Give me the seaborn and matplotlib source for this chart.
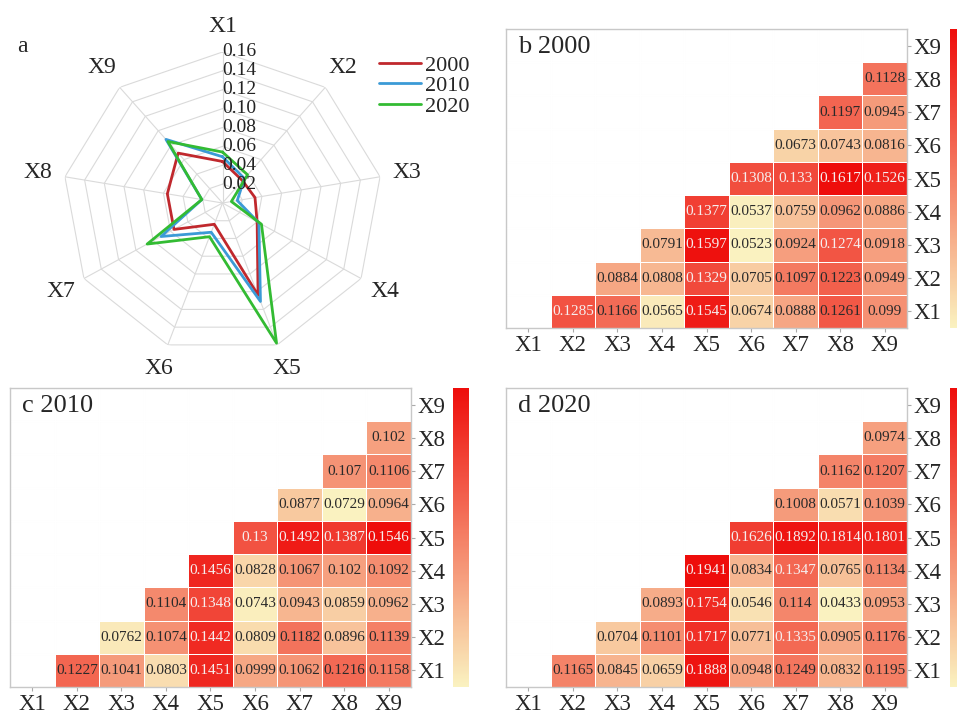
import numpy as np
import pandas as pd
import matplotlib
matplotlib.use("Agg")
import matplotlib.pyplot as plt
import seaborn as sns
from matplotlib.colors import LinearSegmentedColormap

# -----------------------------
# Data
# -----------------------------
factors = ["X1", "X2", "X3", "X4", "X5", "X6", "X7", "X8", "X9"]
years = ["2000", "2010", "2020"]

# single factor q values (panel a)
radar_2000 = [0.044, 0.031, 0.033, 0.040, 0.104, 0.024, 0.056, 0.056, 0.069]
radar_2010 = [0.049, 0.034, 0.015, 0.042, 0.111, 0.033, 0.071, 0.021, 0.088]
radar_2020 = [0.054, 0.039, 0.009, 0.045, 0.158, 0.038, 0.087, 0.021, 0.085]

# interaction q values, row Xi with X(i+1)..X9
q_2000 = [
    [0.1285, 0.1166, 0.0565, 0.1545, 0.0674, 0.0888, 0.1261, 0.099],
    [0.0884, 0.0808, 0.1329, 0.0705, 0.1097, 0.1223, 0.0949],
    [0.0791, 0.1597, 0.0523, 0.0924, 0.1274, 0.0918],
    [0.1377, 0.0537, 0.0759, 0.0962, 0.0886],
    [0.1308, 0.133, 0.1617, 0.1526],
    [0.0673, 0.0743, 0.0816],
    [0.1197, 0.0945],
    [0.1128],
]
q_2010 = [
    [0.1227, 0.1041, 0.0803, 0.1451, 0.0999, 0.1062, 0.1216, 0.1158],
    [0.0762, 0.1074, 0.1442, 0.0809, 0.1182, 0.0896, 0.1139],
    [0.1104, 0.1348, 0.0743, 0.0943, 0.0859, 0.0962],
    [0.1456, 0.0828, 0.1067, 0.102, 0.1092],
    [0.13, 0.1492, 0.1387, 0.1546],
    [0.0877, 0.0729, 0.0964],
    [0.107, 0.1106],
    [0.102],
]
q_2020 = [
    [0.1165, 0.0845, 0.0659, 0.1888, 0.0948, 0.1249, 0.0832, 0.1195],
    [0.0704, 0.1101, 0.1717, 0.0771, 0.1335, 0.0905, 0.1176],
    [0.0893, 0.1754, 0.0546, 0.114, 0.0433, 0.0953],
    [0.1941, 0.0834, 0.1347, 0.0765, 0.1134],
    [0.1626, 0.1892, 0.1814, 0.1801],
    [0.1008, 0.0571, 0.1039],
    [0.1162, 0.1207],
    [0.0974],
]

line_colors = ["#c0282d", "#3b9ad6", "#33bb33"]

# -----------------------------
# Style
# -----------------------------
sns.set_style("white")
plt.rcParams["font.family"] = ["Liberation Serif", "DejaVu Serif"]

W, H = 957, 716
fig = plt.figure(figsize=(W / 100, H / 100), dpi=100)


def rect(x0, y0, x1, y1):
    return [x0 / W, 1 - y1 / H, (x1 - x0) / W, (y1 - y0) / H]


# -----------------------------
# a: radar
# -----------------------------
ax = fig.add_axes(rect(62.5, 52, 382.5, 354), projection="polar")
ax.set_aspect("auto")
ax.set_theta_offset(np.pi / 2)
ax.set_theta_direction(-1)
ax.set_ylim(0, 0.16)
ax.grid(False)
ax.spines["polar"].set_visible(False)
ax.set_xticks([])
ax.set_yticks([])

theta = np.arange(len(factors)) * 2 * np.pi / len(factors)
theta_c = np.append(theta, theta[0])
rings = [0.02, 0.04, 0.06, 0.08, 0.10, 0.12, 0.14, 0.16]
for r in rings:
    ax.plot(theta_c, [r] * len(theta_c), color="#dadada", lw=0.8, zorder=1)
for t in theta:
    ax.plot([t, t], [0, 0.16], color="#dadada", lw=0.8, zorder=1)

for vals, yr, c in zip([radar_2000, radar_2010, radar_2020], years, line_colors):
    ax.plot(theta_c, vals + vals[:1], color=c, lw=2.0, label=yr, zorder=3)

for r in rings:
    ax.text(0, r, f"{r:.2f}", ha="left", va="center", fontsize=14,
            color="#222222", zorder=4)
for t, lab in zip(theta, factors):
    ax.text(t, 0.187, lab, ha="center", va="center", fontsize=17, clip_on=False)

ax.legend(loc="upper left", bbox_to_anchor=(379 / W, 1 - 55 / H),
          bbox_transform=fig.transFigure, frameon=False, fontsize=16,
          handlelength=1.9, handletextpad=0.15, labelspacing=0.0,
          borderpad=0, borderaxespad=0)
fig.text(17 / W, 1 - 52 / H, "a", fontsize=17, ha="left", va="baseline")

# -----------------------------
# b, c, d: interaction heatmaps
# -----------------------------
cmap = LinearSegmentedColormap.from_list("yr", ["#faf2c0", "#ee0d0b"])


def draw_heat(ax, cax, rows, title):
    mat = np.full((9, 9), np.nan)
    for i, row in enumerate(rows):
        for k, v in enumerate(row):
            mat[i, i + 1 + k] = v
    df = pd.DataFrame(mat, index=factors, columns=factors)
    labels = df.map(lambda v: "" if np.isnan(v) else f"{v:g}")
    for k in range(10):
        ax.axhline(k, color="#f1f1f1", lw=0.8, zorder=0)
        ax.axvline(k, color="#f1f1f1", lw=0.8, zorder=0)
    sns.heatmap(df, ax=ax, cbar_ax=cax, cmap=cmap, mask=df.isna(),
                annot=labels, fmt="", annot_kws={"fontsize": 11},
                linewidths=0.5, linecolor="white",
                vmin=np.nanmin(mat), vmax=np.nanmax(mat))
    ax.invert_yaxis()
    for txt in ax.texts:
        v = float(txt.get_text())
        txt.set_color("#f6eeee" if v > 0.127 else "#2a2a2a")
    ax.yaxis.tick_right()
    ax.set_xlabel("")
    ax.set_ylabel("")
    ax.tick_params(axis="both", labelsize=16.5, length=3, width=0.8,
                   color="#aaaaaa", pad=2, bottom=True, right=True, left=False)
    ax.set_yticklabels(factors, rotation=0)
    ax.set_xticklabels(factors, rotation=0)
    for s in ax.spines.values():
        s.set_visible(True)
        s.set_color("#c8c8c8")
        s.set_linewidth(1)
    ax.text(0.03, 0.92, title, transform=ax.transAxes, fontsize=19,
            ha="left", va="baseline")
    cax.set_yticks([])
    ax.collections[0].colorbar.outline.set_visible(False)


ax_b = fig.add_axes(rect(506, 29, 907, 328))
cax_b = fig.add_axes(rect(950, 29, 967, 328))
draw_heat(ax_b, cax_b, q_2000, "b 2000")

ax_c = fig.add_axes(rect(10, 388, 411, 687))
cax_c = fig.add_axes(rect(453, 388, 469, 687))
draw_heat(ax_c, cax_c, q_2010, "c 2010")

ax_d = fig.add_axes(rect(506, 388, 907, 687))
cax_d = fig.add_axes(rect(950, 388, 967, 687))
draw_heat(ax_d, cax_d, q_2020, "d 2020")

fig.savefig("out.png", dpi=100)
